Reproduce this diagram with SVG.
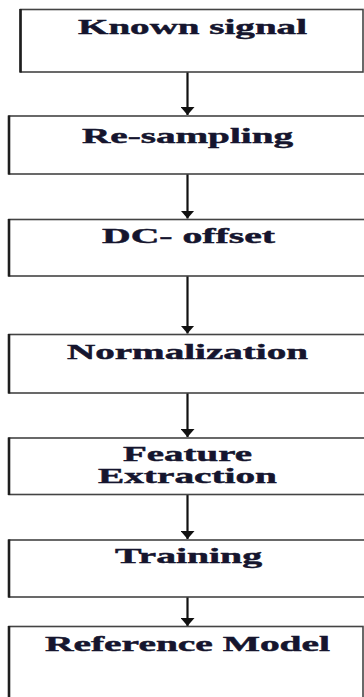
<svg xmlns="http://www.w3.org/2000/svg" width="364" height="697" viewBox="0 0 364 697">
<style>
.box{fill:#fff;stroke:#444;stroke-width:1.6}
.lft{stroke:#1e1e1e;stroke-width:2.6}
.lbl{font-family:"Liberation Serif","Times New Roman",serif;font-weight:bold;font-size:21.5px;fill:#15152e;stroke:#15152e;stroke-width:0.45}
.con{stroke:#111;stroke-width:2.2;fill:none}
</style>
<defs>
<marker id="ah" markerWidth="8" markerHeight="14" refX="8" refY="7" orient="auto" markerUnits="userSpaceOnUse" viewBox="0 0 8 14">
<path d="M0,0 L8,7 L0,14 Z" fill="#111"/>
</marker>
</defs>
<rect width="364" height="697" fill="#fff"/>
<g id="connectors">
<line class="con" x1="187.5" y1="72" x2="187.5" y2="115" marker-end="url(#ah)"/>
<line class="con" x1="187.5" y1="174" x2="187.5" y2="218.5" marker-end="url(#ah)"/>
<line class="con" x1="187.5" y1="276" x2="187.5" y2="333.5" marker-end="url(#ah)"/>
<line class="con" x1="187.5" y1="393" x2="187.5" y2="437" marker-end="url(#ah)"/>
<line class="con" x1="187.5" y1="495" x2="187.5" y2="539" marker-end="url(#ah)"/>
<line class="con" x1="187.5" y1="597" x2="187.5" y2="626" marker-end="url(#ah)"/>
</g>
<g id="n1">
<rect class="box" x="20.5" y="9.5" width="342.5" height="62.5"/>
<line class="lft" x1="20.5" y1="9" x2="20.5" y2="72.5"/>
<text class="lbl" x="78" y="34" textLength="229" lengthAdjust="spacingAndGlyphs">Known signal</text>
</g>
<g id="n2">
<rect class="box" x="9" y="116" width="356" height="58"/>
<line class="lft" x1="9" y1="115.5" x2="9" y2="174.5"/>
<text class="lbl" x="82" y="143" textLength="211" lengthAdjust="spacingAndGlyphs">Re-sampling</text>
</g>
<g id="n3">
<rect class="box" x="9" y="219.5" width="356" height="56.5"/>
<line class="lft" x1="9" y1="219" x2="9" y2="276.5"/>
<text class="lbl" x="102" y="243" textLength="173" lengthAdjust="spacingAndGlyphs">DC- offset</text>
</g>
<g id="n4">
<rect class="box" x="9" y="334.5" width="356" height="58.5"/>
<line class="lft" x1="9" y1="334" x2="9" y2="393.5"/>
<text class="lbl" x="67" y="359" textLength="241" lengthAdjust="spacingAndGlyphs">Normalization</text>
</g>
<g id="n5">
<rect class="box" x="9" y="438" width="356" height="56.5"/>
<line class="lft" x1="9" y1="437.5" x2="9" y2="495"/>
<text class="lbl" x="123" y="461" textLength="129" lengthAdjust="spacingAndGlyphs">Feature</text>
<text class="lbl" x="98" y="483" textLength="179" lengthAdjust="spacingAndGlyphs">Extraction</text>
</g>
<g id="n6">
<rect class="box" x="9" y="540" width="356" height="57"/>
<line class="lft" x1="9" y1="539.5" x2="9" y2="597.5"/>
<text class="lbl" x="115" y="563" textLength="147" lengthAdjust="spacingAndGlyphs">Training</text>
</g>
<g id="n7">
<rect class="box" x="9" y="626.5" width="354" height="80"/>
<line class="lft" x1="9" y1="626" x2="9" y2="697"/>
<text class="lbl" x="45" y="651" textLength="285" lengthAdjust="spacingAndGlyphs">Reference Model</text>
</g>
</svg>
